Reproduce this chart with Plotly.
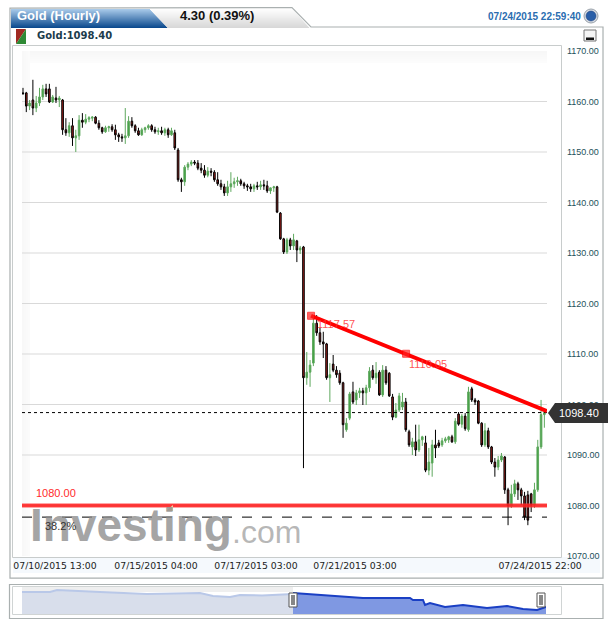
import plotly.graph_objects as go

W, H = 613, 627

opens = [1161.7,1161.7,1159.1,1160.3,1158.7,1159.7,1160.9,1162.5,1162.5,1159.9,
1160.7,1160.3,1160.3,1154.4,1153.8,1155.2,1152.8,1153.2,1156.3,1155.9,
1156.5,1156.7,1156.9,1155.7,1154.8,1154,1154.8,1155,1154.4,1153.4,
1153,1152.8,1153.2,1156.1,1155.2,1154.2,1153.4,1154.4,1154.8,1155.2,
1154.4,1154,1154.2,1153.8,1154.4,1153.4,1153.8,1150.4,1144.5,1144.1,
1147,1147.6,1148,1147.8,1146.8,1146.4,1145.4,1146.2,1146,1144.5,
1143.7,1143.1,1141.9,1143.1,1143.7,1144.1,1144.3,1143.7,1143.3,1143.1,
1142.7,1143.3,1143.1,1143.5,1143.3,1142.3,1142.9,1143.1,1137.9,1132.8,
1130.2,1132.6,1131.4,1132.4,1130.6,1131.2,1105.3,1106.4,1108.2,1116.1,
1114.2,1112.4,1112,1105.3,1108,1106.8,1106.2,1104.3,1095,1097.3,
1102.5,1100.9,1102.3,1102.7,1102.3,1103.3,1106.8,1105.3,1106.4,1101.9,
1106.8,1106.2,1101.5,1097.5,1098.9,1099.5,1100.5,1094.6,1091.6,1092.6,
1091,1093,1092.4,1087,1088.4,1092,1092.4,1092,1092.8,1093,
1093.6,1092.6,1098.1,1096.1,1097.7,1095,1103.1,1100.9,1100.7,1096.3,
1092,1094.8,1091.6,1088.6,1087.6,1089,1089.6,1083.1,1079.9,1082.3,
1084.3,1083.1,1081.9,1082.1,1082.3,1080.1,1083.1,1091.6,1098]
highs = [1162.7,1161.9,1160.3,1164.3,1161.1,1162.7,1163.3,1163.5,1163.5,1161.3,
1162.9,1161.1,1160.5,1156.7,1155.9,1156.7,1154.4,1157.3,1157.7,1157.5,
1157.1,1157.1,1157.1,1156.3,1155,1155.2,1155.2,1155.5,1155.4,1153.8,
1153.6,1158.7,1157.1,1156.9,1155.5,1154.8,1154.8,1155,1155.5,1155.5,
1155,1154.8,1155,1154.8,1154.8,1154.8,1154.4,1150.8,1144.9,1147.4,
1148,1148.4,1148.4,1148.4,1147.8,1147.4,1147,1146.8,1146.4,1146,
1144.5,1143.7,1144.3,1146,1144.9,1145.1,1144.7,1144.1,1143.7,1143.7,
1143.7,1144.1,1144.3,1144.5,1144.3,1142.9,1143.3,1143.3,1138.1,1133,
1133,1133,1133.8,1132.6,1131.4,1131.4,1110.4,1108.8,1117.1,1117.7,
1115.2,1114.4,1112.2,1108.2,1109.8,1107.6,1106.8,1104.5,1097.3,1102.5,
1104.5,1102.9,1103.3,1103.3,1103.9,1107.4,1107.8,1108.4,1106.8,1107.8,
1107.6,1106.4,1102.1,1100.3,1102.3,1102.3,1101.3,1095,1093.4,1096,
1096,1093.8,1093.8,1091.4,1093,1095,1093,1093.4,1093.6,1093.8,
1094,1097.3,1098.5,1098.1,1098.3,1103.5,1103.5,1101.3,1100.9,1096.5,
1096.3,1095.4,1091.8,1089.4,1089.8,1090.4,1089.8,1083.5,1084.1,1085.1,
1084.7,1083.5,1082.7,1082.9,1082.5,1084.5,1093,1100.9,1098.9]
lows = [1161.3,1157.9,1158.3,1157.3,1157.9,1159.1,1160.3,1160.9,1159.7,1159.7,
1159.7,1158.9,1153.4,1153.2,1153,1151.2,1150,1152.4,1154.8,1155.5,
1155.9,1156.1,1155.5,1154.4,1153.6,1153.8,1154,1154,1152.4,1152,
1152,1151.6,1152.8,1154.8,1153.8,1153.2,1153.2,1153.8,1154.4,1154,
1153.6,1153.4,1153.4,1153.2,1152.8,1153.2,1150.4,1144.1,1142.1,1143.3,
1146.4,1147.2,1147.4,1146.4,1145.8,1144.9,1145,1145.2,1144.1,1143.3,
1142.5,1141.3,1141.3,1142.1,1142.9,1143.3,1143.3,1142.7,1142.3,1142.1,
1142.1,1142.5,1142.5,1142.5,1141.9,1141.7,1142.1,1137.9,1132.6,1129.8,
1129.8,1130.6,1130.6,1128.2,1129.8,1087.4,1103.9,1103.5,1107.6,1113.6,
1111.8,1109.2,1104.9,1100.5,1106.4,1105.3,1103.9,1093.4,1094.6,1096.9,
1100.1,1099.9,1101.3,1099.9,1099.9,1102.5,1104.9,1104.1,1101.7,1101.5,
1103.9,1101.5,1096.9,1097.3,1098.5,1098.9,1094.6,1091.6,1090,1089.8,
1090.6,1091.8,1086.6,1086,1085.7,1089.4,1091.4,1091.6,1092.4,1092.4,
1092.4,1092.2,1095.8,1095.4,1094.8,1094.6,1100.5,1099.9,1096.1,1091.6,
1091.6,1091.2,1088.2,1085.7,1087,1088.6,1082.3,1076.1,1079.5,1081.7,
1081.1,1080.1,1077.1,1076.1,1078.7,1079.5,1082.7,1091.2,1095.4]
closes = [1161.6,1159.1,1159.7,1158.7,1159.7,1160.9,1162.5,1161.5,1159.9,1160.9,
1160.3,1160.7,1154.4,1153.8,1155.2,1152.8,1153.2,1156.3,1155.9,1156.5,
1156.8,1156.9,1155.7,1154.8,1154,1154.8,1155,1154.4,1153.4,1153,
1152.8,1153.2,1156.1,1155.2,1154.2,1153.4,1154.4,1154.8,1155.2,1154.4,
1154,1154.2,1153.8,1154.4,1153.4,1154.2,1150.8,1144.5,1144.1,1147,
1147.6,1148,1147.8,1146.8,1146.4,1145.4,1146.2,1146,1144.5,1143.7,
1143.1,1141.9,1143.1,1143.7,1144.1,1144.3,1143.7,1143.3,1143.1,1142.7,
1143.3,1143.1,1143.5,1143.3,1142.3,1142.9,1143.1,1138.1,1132.8,1130.2,
1132.6,1131.4,1132.6,1130.6,1131,1105.3,1106.4,1107.8,1116.1,1114.2,
1112.4,1112,1105.3,1105.9,1106.8,1105.9,1104.3,1096,1096.3,1102.1,
1100.5,1102.3,1102.7,1102.3,1103.3,1106.6,1105.3,1106.2,1101.9,1106.8,
1104.3,1101.7,1097.5,1098.9,1101.7,1100.5,1095,1092,1092.6,1091,
1093,1093.6,1087,1088.6,1092,1091.4,1091.8,1092.8,1093.2,1093.6,
1092.6,1096.7,1096.1,1097.7,1095.2,1102.5,1100.9,1100.5,1096.3,1092,
1094.8,1091.6,1088.6,1087.6,1089,1089.8,1083.1,1079.9,1082.3,1084.3,
1083.1,1081.9,1077.7,1077.1,1080.1,1083.1,1091.6,1098,1098.4]
bars = list(range(len(closes)))

y_ticks = [1070,1080,1090,1100,1110,1120,1130,1140,1150,1160,1170]
grid_levels = [1080,1090,1100,1110,1120,1130,1140,1150,1160]
x_tick_pos = [9.7,40.3,70.6,100.6,156.7]
x_tick_text = ["07/10/2015 13:00","07/15/2015 04:00","07/17/2015 03:00","07/21/2015 03:00","07/24/2015 22:00"]

trend_x = [87.3,116.1,158.8]
trend_y = [1117.57,1110.05,1098.7]
trend_labels = ["1117.57","1110.05"]
support = 1080.0
last_price = 1098.40
fib_level = 1077.7

nav_past_x = [0,28,35,60,78,125,178,191,208,218,240,271]
nav_past_y = [1226,1226,1242,1230,1226,1210,1218,1194,1186,1202,1198,1210]
nav_now_x = [271,303,341,388,391,401,403,408,423,441,465,485,501,515,524]
nav_now_y = [1218,1202,1178,1178,1162,1162,1122,1138,1106,1122,1098,1114,1090,1082,1106]

def px(x): return x / W
def py(y): return 1 - y / H

def mix(a, b, t):
    return "rgb(%d,%d,%d)" % tuple(round(a[i] + (b[i] - a[i]) * t) for i in range(3))

shapes = []
def rect(x0, y0, x1, y1, fill=None, line=None, lw=1, layer="below"):
    shapes.append(dict(type="rect", xref="paper", yref="paper", x0=px(x0), x1=px(x1), y0=py(y0), y1=py(y1),
                       fillcolor=fill or "rgba(0,0,0,0)", line=dict(color=line or "rgba(0,0,0,0)", width=lw if line else 0), layer=layer))
def poly(points, fill=None, line=None, lw=1, layer="below", close=True):
    d = "M" + " L".join("%.4f,%.4f" % (px(a), py(b)) for a, b in points) + (" Z" if close else "")
    shapes.append(dict(type="path", xref="paper", yref="paper", path=d,
                       fillcolor=fill or "rgba(0,0,0,0)", line=dict(color=line or "rgba(0,0,0,0)", width=lw if line else 0), layer=layer))

# header tabs
for r in range(8, 28):
    t = (r - 8) / 19
    end_blue = 150 + (r - 9) * 18 / 19
    end_gray = 292 + (r - 8) * 18 / 20
    rect(end_blue, r, end_gray, r + 1, fill=mix((255, 255, 255), (216, 216, 216), t))
for r in range(9, 28):
    t = (r - 9) / 18
    rect(11, r, 150 + (r - 9) * 18 / 19, r + 1, fill=mix((166, 200, 232), (12, 74, 142), t))
poly([(10, 28), (10, 8), (292, 7.5), (311, 27), (603, 27), (603, 578), (10, 578)], line="#aab0b0", lw=1.2)
# x label strip
rect(13, 557, 600, 573, fill="#f5f9fd")
# plot frame
rect(12.5, 45.5, 561.5, 557.5, line="#c8cccc")
# plot gradient
for i in range(6):
    g = 247 + i
    rect(22, 51 + i * 2, 547, 53 + i * 2, fill="rgb(%d,%d,%d)" % (g, g, g))
for i in range(4):
    g = 248 + i
    rect(22 + i * 2, 51, 24 + i * 2, 556, fill="rgb(%d,%d,%d)" % (g, g, g))
# grid
for lv in grid_levels:
    shapes.append(dict(type="line", xref="x", yref="y", x0=-0.3, x1=158.8, y0=lv, y1=lv,
                       line=dict(color="#d9d9d9", width=1), layer="below"))
# icon
poly([(16, 29), (26, 29), (16, 44)], fill="#a02a22")
poly([(26, 29), (26, 44), (16, 44)], fill="#2f8a35")
# minimise button
rect(584, 30, 596, 41, fill="#f4f4f4", line="#777", lw=1, layer="above")
rect(586, 37.5, 594, 40, fill="#111", layer="above")
# globe
shapes.append(dict(type="circle", xref="paper", yref="paper", x0=px(584), x1=px(598), y0=py(23), y1=py(9),
                   fillcolor="#d8dde4", line=dict(color="#9aa2aa", width=1), layer="below"))
shapes.append(dict(type="circle", xref="paper", yref="paper", x0=px(586), x1=px(596), y0=py(21), y1=py(11),
                   fillcolor="#2a5fa8", line=dict(color="#1c3f78", width=0.5), layer="below"))
# price tag
poly([(548, 413), (555, 403), (608, 403), (608, 423), (555, 423)], fill="#333333", layer="above")
# watermark accent
poly([(166, 511), (173, 505), (173, 511)], fill="#f5cf9f", layer="above")
# navigator
rect(9.5, 584.5, 603, 618.5, line="#aab0b0", lw=1.2)
rect(12.5, 586.5, 561.5, 614.5, line="#d0d4d4")
rect(22, 587, 293, 592, fill="#efefef")
for hx in (293, 541):
    rect(hx - 4, 593, hx + 4, 607, fill="#ffffff", line="#555555", lw=1, layer="above")
    rect(hx - 1.5, 595, hx - 0.5, 605, fill="#111111", layer="above")
    rect(hx + 0.5, 595, hx + 1.5, 605, fill="#111111", layer="above")

font_sans = "Liberation Sans"
def note(x, y, text, size, color, bold=False, anchor="left", family=font_sans, bg=None):
    return dict(xref="paper", yref="paper", x=px(x), y=py(y), text=("<b>%s</b>" % text) if bold else text,
                showarrow=False, xanchor=anchor, yanchor="middle", borderpad=0,
                font=dict(size=size, color=color, family=family))

annotations = [
    note(16, 16, "Gold (Hourly)", 13, "#ffffff", True),
    note(179, 16, "4.30 (0.39%)", 13, "#111111", True),
    note(487, 17, "07/24/2015 22:59:40", 10, "#2a6db0", True),
    note(36, 36, "Gold:1098.40", 10, "#1c3c4c", True, family="DejaVu Sans"),
    note(558, 413, "1098.40", 11, "#ffffff"),
    note(35, 493, "1080.00", 11, "#ff2a2a"),
    note(29, 525, "Investing", 46, "rgba(140,140,140,0.78)", True),
    note(231, 532, ".com", 32, "rgba(170,170,170,0.85)"),
    note(44, 526, "38.2%", 11, "#333333"),
    note(316, 324, trend_labels[0], 11, "rgba(255,50,50,0.85)"),
    note(408, 364, trend_labels[1], 11, "rgba(255,50,50,0.85)"),
]

fig = go.Figure()
fig.add_trace(go.Candlestick(x=bars, open=opens, high=highs, low=lows, close=closes,
    increasing=dict(line=dict(color="#5ea85e", width=1), fillcolor="#3f9f3f"),
    decreasing=dict(line=dict(color="#000000", width=1), fillcolor="#a8201c"),
    hoverinfo="skip", showlegend=False))
xs_full = [-0.3, 158.8]
fig.add_trace(go.Scatter(x=xs_full, y=[last_price] * 2, mode="lines", line=dict(color="#000", width=1, dash="dot"), hoverinfo="skip"))
fig.add_trace(go.Scatter(x=xs_full, y=[fib_level] * 2, mode="lines", line=dict(color="#000", width=1, dash="10px,10px"), hoverinfo="skip"))
fig.add_trace(go.Scatter(x=xs_full, y=[support] * 2, mode="lines", line=dict(color="rgba(255,60,60,0.45)", width=5), hoverinfo="skip"))
fig.add_trace(go.Scatter(x=xs_full, y=[support] * 2, mode="lines", line=dict(color="rgba(255,30,30,0.8)", width=3), hoverinfo="skip"))
fig.add_trace(go.Scatter(x=trend_x, y=trend_y, mode="lines+markers", line=dict(color="#ff0000", width=4),
    marker=dict(symbol="square", size=[7, 7, 0], color="#ff2020"), hoverinfo="skip"))
fig.add_trace(go.Scatter(x=nav_past_x, y=nav_past_y, xaxis="x2", yaxis="y2", mode="lines", fill="tozeroy",
    line=dict(color="#b9c8e8", width=2), fillcolor="#d8deeb", hoverinfo="skip"))
fig.add_trace(go.Scatter(x=nav_now_x, y=nav_now_y, xaxis="x2", yaxis="y2", mode="lines", fill="tozeroy",
    line=dict(color="#1a3fc4", width=2), fillcolor="#7f98e2", hoverinfo="skip"))

fig.update_layout(
    width=W, height=H, margin=dict(l=0, r=0, t=0, b=0, pad=0), autosize=False,
    paper_bgcolor="#ffffff", plot_bgcolor="rgba(0,0,0,0)", showlegend=False,
    shapes=shapes, annotations=annotations, hovermode=False,
    xaxis=dict(domain=[px(22), px(547)], range=[-0.3, 158.8], rangeslider=dict(visible=False), automargin=False,
               tickmode="array", tickvals=x_tick_pos, ticktext=x_tick_text, ticklen=0, ticklabelstandoff=3, showgrid=False, zeroline=False,
               showline=False, tickfont=dict(family="DejaVu Sans", size=9.3, color="#222222"), anchor="y"),
    yaxis=dict(domain=[py(556), py(51)], range=[1070, 1170], side="right", tickmode="array", tickvals=y_ticks, automargin=False,
               ticktext=["%.2f" % v for v in y_ticks], ticklen=0, ticklabelstandoff=19, showgrid=False, zeroline=False,
               showline=False, tickfont=dict(family=font_sans, size=9, color="#24505a"), anchor="x"),
    xaxis2=dict(domain=[px(22), px(546)], range=[0, 524], visible=False, anchor="y2", automargin=False),
    yaxis2=dict(domain=[py(614), py(588)], range=[1050, 1258], visible=False, anchor="x2", automargin=False),
)
fig.write_html("out.html", config=dict(displayModeBar=False, staticPlot=True),
               post_script="document.body.style.margin='0';document.body.style.overflow='hidden';")
